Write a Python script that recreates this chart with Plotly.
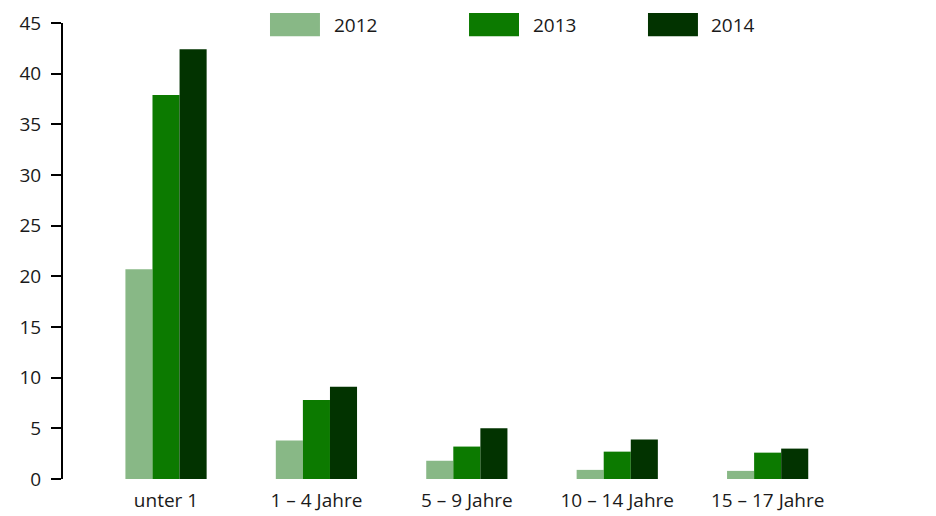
import plotly.graph_objects as go

CATEGORIES = ["unter 1", "1 – 4 Jahre", "5 – 9 Jahre", "10 – 14 Jahre", "15 – 17 Jahre"]
YEARS = ["2012", "2013", "2014"]
VALUES_2012 = [20.7, 3.8, 1.8, 0.9, 0.8]
VALUES_2013 = [37.9, 7.8, 3.2, 2.7, 2.6]
VALUES_2014 = [42.4, 9.1, 5.0, 3.9, 3.0]
Y_TICKS = [0, 5, 10, 15, 20, 25, 30, 35, 40, 45]

COLORS = ["#88B886", "#0C7A00", "#023300"]
FONT = "Open Sans"
TEXT_COLOR = "#1a1a1a"

fig = go.Figure()
for year, vals, color in zip(YEARS, [VALUES_2012, VALUES_2013, VALUES_2014], COLORS):
    fig.add_trace(go.Bar(x=CATEGORIES, y=vals, name=year, marker=dict(color=color, line=dict(width=0))))

# custom legend: wide swatches above the plot
legend_x = [0.2473, 0.4851, 0.6989]
for i, (year, color) in enumerate(zip(YEARS, COLORS)):
    x0 = legend_x[i]
    fig.add_shape(type="rect", xref="paper", yref="paper",
                  x0=x0, x1=x0 + 0.0597, y0=0.971, y1=1.022,
                  fillcolor=color, line=dict(width=0))
    fig.add_annotation(xref="paper", yref="paper", x=x0 + 0.0735, y=0.9965,
                       text=year, showarrow=False, xanchor="left", yanchor="middle",
                       font=dict(family=FONT, size=19, color=TEXT_COLOR))

fig.update_layout(
    barmode="group",
    bargap=0.46,
    bargroupgap=0,
    showlegend=False,
    width=936,
    height=516,
    margin=dict(l=63, r=36, t=23, b=37),
    plot_bgcolor="white",
    paper_bgcolor="white",
    font=dict(family=FONT, size=19, color=TEXT_COLOR),
    xaxis=dict(range=[-0.685, 4.88], showline=False, ticks="", showgrid=False,
               ticklabelstandoff=8, tickfont=dict(size=19), automargin=False),
    yaxis=dict(range=[0, 45], tickvals=Y_TICKS, showgrid=False, zeroline=False,
               showline=True, linecolor="black", linewidth=2,
               ticks="outside", ticklen=10, tickwidth=2, tickcolor="black",
               ticklabelstandoff=6, tickfont=dict(size=19), automargin=False),
)

fig.write_html("out.html", config={"displayModeBar": False},
               post_script="document.body.style.margin='0';")
